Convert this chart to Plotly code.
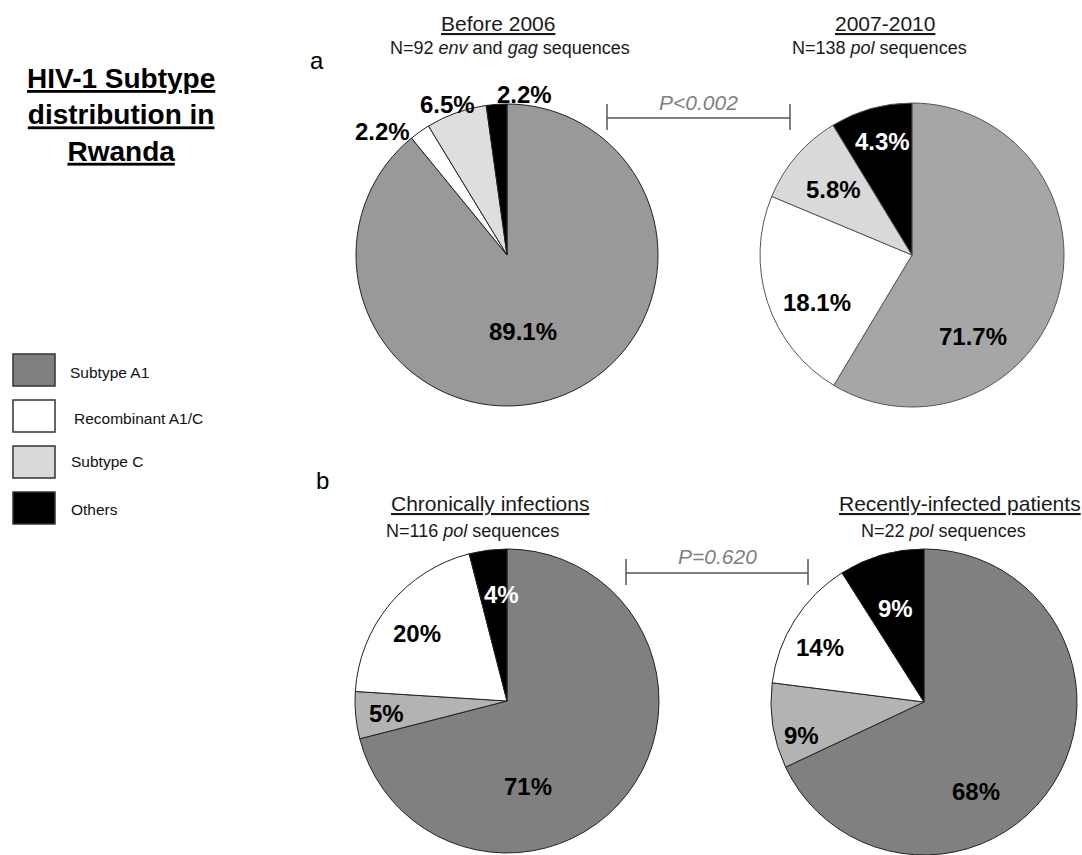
import math
import plotly.graph_objects as go

W, H = 1082, 855
FONT = "Liberation Sans, Arial, sans-serif"

# ---------------- data ----------------
legend_names = ["Subtype A1", "Recombinant A1/C", "Subtype C", "Others"]
legend_colors = ["#808080", "#ffffff", "#d9d9d9", "#000000"]

# panel a (slice order clockwise from 12 o'clock)
before2006_labels = ["Subtype A1", "Recombinant A1/C", "Subtype C", "Others"]
before2006_values = [89.1, 2.2, 6.5, 2.2]
before2006_text = ["89.1%", "2.2%", "6.5%", "2.2%"]

y2007_labels = ["Subtype A1", "Recombinant A1/C", "Subtype C", "Others"]
y2007_values = [58.6, 22.7, 10.0, 8.7]          # slice sizes as drawn in the figure
y2007_text = ["71.7%", "18.1%", "5.8%", "4.3%"]  # printed labels

# panel b
chronic_labels = ["Subtype A1", "Subtype C", "Recombinant A1/C", "Others"]
chronic_values = [71, 5, 20, 4]
chronic_text = ["71%", "5%", "20%", "4%"]

recent_labels = ["Subtype A1", "Subtype C", "Recombinant A1/C", "Others"]
recent_values = [68, 9, 14, 9]
recent_text = ["68%", "9%", "14%", "9%"]


def px(x):
    return x / W


def py(y):
    return 1 - y / H


pies = [
    dict(labels=before2006_labels, values=before2006_values, text=before2006_text,
         cx=507, cy=255, R=151,
         colors=["#999999", "#ffffff", "#dedede", "#000000"],
         tcolors=["#000", "#000", "#000", "#000"],
         lr=[0.52, 1.16, 1.07, 1.07], ls=[8, -10, -2, 10], line="#222222"),
    dict(labels=y2007_labels, values=y2007_values, text=y2007_text,
         cx=912, cy=255, R=152,
         colors=["#a6a6a6", "#ffffff", "#d9d9d9", "#000000"],
         tcolors=["#000", "#000", "#000", "#fff"],
         lr=[0.67, 0.70, 0.67, 0.77], ls=[38, -8.6, -1, 1.3], line="#555555"),
    dict(labels=chronic_labels, values=chronic_values, text=chronic_text,
         cx=507, cy=701, R=152,
         colors=["#808080", "#b3b3b3", "#ffffff", "#000000"],
         tcolors=["#000", "#000", "#000", "#fff"],
         lr=[0.58, 0.80, 0.74, 0.70], ls=[38.5, -0.7, -3, 4.5], line="#222222"),
    dict(labels=recent_labels, values=recent_values, text=recent_text,
         cx=924, cy=702, R=153,
         colors=["#808080", "#b3b3b3", "#ffffff", "#000000"],
         tcolors=["#000", "#000", "#000", "#fff"],
         lr=[0.68, 0.83, 0.77, 0.64], ls=[27.4, -6.3, -4.8, -0.8], line="#222222"),
]

fig = go.Figure()
annotations = []
shapes = []

for p in pies:
    cx, cy, R = p["cx"], p["cy"], p["R"]
    fig.add_trace(go.Pie(
        labels=p["labels"], values=p["values"], sort=False, direction="clockwise",
        rotation=0, textinfo="none", hoverinfo="label+percent", showlegend=False,
        marker=dict(colors=p["colors"], line=dict(color=p["line"], width=1)),
        domain=dict(x=[px(cx - R), px(cx + R)], y=[py(cy + R), py(cy - R)]),
    ))
    total = sum(p["values"])
    cum = 0.0
    for v, t, tc, r, s in zip(p["values"], p["text"], p["tcolors"], p["lr"], p["ls"]):
        mid = (cum + v / 2) / total * 360 + s
        cum += v
        th = math.radians(mid)
        x = cx + r * R * math.sin(th)
        y = cy - r * R * math.cos(th)
        annotations.append(dict(
            x=px(x), y=py(y), xref="paper", yref="paper", text=t, showarrow=False,
            xanchor="center", yanchor="middle",
            font=dict(family=FONT, size=24, color=tc, weight="bold")))

# main title
annotations.append(dict(
    x=px(121), y=py(115), xref="paper", yref="paper", showarrow=False,
    text="<u>HIV-1 Subtype</u><br><u>distribution in</u><br><u>Rwanda</u>",
    xanchor="center", yanchor="middle", align="center",
    font=dict(family=FONT, size=28, color="#000", weight="bold")))

# panel letters
for letter, x, y in [("a", 317, 61), ("b", 322, 480)]:
    annotations.append(dict(x=px(x), y=py(y), xref="paper", yref="paper", text=letter,
                            showarrow=False, xanchor="center", yanchor="middle",
                            font=dict(family=FONT, size=24, color="#000")))

# pie titles
titles = [
    ("<u>Before 2006</u>", 498, 23, "N=92 <i>env</i> and <i>gag</i> sequences", 510, 48),
    ("<u>2007-2010</u>", 885, 23, "N=138 <i>pol</i> sequences", 879, 48),
    ("<u>Chronically infections</u>", 490, 503, "N=116 <i>pol</i> sequences", 472, 531),
    ("<u>Recently-infected patients</u>", 960, 503, "N=22 <i>pol</i> sequences", 943, 531),
]
for t1, x1, y1, t2, x2, y2 in titles:
    annotations.append(dict(x=px(x1), y=py(y1), xref="paper", yref="paper", text=t1,
                            showarrow=False, xanchor="center", yanchor="middle",
                            font=dict(family=FONT, size=21, color="#1a1a1a")))
    annotations.append(dict(x=px(x2), y=py(y2), xref="paper", yref="paper", text=t2,
                            showarrow=False, xanchor="center", yanchor="middle",
                            font=dict(family=FONT, size=18, color="#1a1a1a")))

# p-value brackets
brackets = [("<i>P<0.002</i>", 607, 790, 118, 102), ("<i>P=0.620</i>", 626, 808, 573, 556)]
for txt, x0, x1, yl, yt in brackets:
    shapes.append(dict(type="line", xref="paper", yref="paper", x0=px(x0), x1=px(x1),
                       y0=py(yl), y1=py(yl), line=dict(color="#555555", width=1.5)))
    for xx in (x0, x1):
        shapes.append(dict(type="line", xref="paper", yref="paper", x0=px(xx), x1=px(xx),
                           y0=py(yl - 14), y1=py(yl + 12), line=dict(color="#555555", width=1.5)))
    annotations.append(dict(x=px((x0 + x1) / 2), y=py(yt), xref="paper", yref="paper",
                            text=txt, showarrow=False, xanchor="center", yanchor="middle",
                            font=dict(family=FONT, size=21, color="#808080")))

# legend
legend_box_top = [354, 400, 446, 492]
legend_text_x = [68, 72, 69, 69]
legend_text_y = [372, 418, 461, 509]
for name, col, top, tx, ty in zip(legend_names, legend_colors, legend_box_top,
                                  legend_text_x, legend_text_y):
    shapes.append(dict(type="rect", xref="paper", yref="paper", x0=px(13), x1=px(55),
                       y0=py(top + 32), y1=py(top), fillcolor=col,
                       line=dict(color="#333333", width=1.5)))
    annotations.append(dict(x=px(tx), y=py(ty), xref="paper", yref="paper", text=name,
                            showarrow=False, xanchor="left", yanchor="middle",
                            font=dict(family=FONT, size=15.5, color="#111")))

fig.update_layout(
    width=W, height=H, margin=dict(l=0, r=0, t=0, b=0),
    paper_bgcolor="#ffffff", plot_bgcolor="#ffffff",
    annotations=annotations, shapes=shapes, showlegend=False,
)

fig.write_html("out.html")
